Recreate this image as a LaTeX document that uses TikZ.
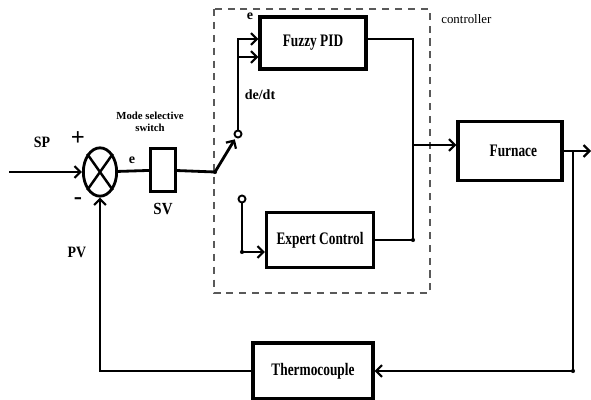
\documentclass[tikz,border=0pt]{standalone}
\usepackage{fontspec}
\setmainfont{Liberation Serif}
\newfontfamily\narrowbf[FakeStretch=0.76]{Liberation Serif Bold}
\newfontfamily\midbf[FakeStretch=0.88]{Liberation Serif Bold}
\usepackage{tikz}
\usetikzlibrary{arrows.meta,shapes.geometric,positioning,calc}

\begin{document}
\begin{tikzpicture}[
    x=0.03cm,y=-0.03cm,
    line width=2.4pt,
    box/.style={draw,line width=2.7pt,font=\fontsize{15}{17}\narrowbf,
                text centered,inner sep=2pt},
    arr/.style={-{Straight Barb[length=5pt,width=10pt,line width=1.9pt]}},
    lbl/.style={font=\fontsize{13.5}{15}\midbf,inner sep=1pt},
    small/.style={font=\fontsize{9.2}{10.5}\bfseries,inner sep=1pt,align=center},
    term/.style={circle,draw,line width=1.6pt,fill=white,inner sep=0pt,minimum size=6pt},
    dot/.style={circle,fill,inner sep=0pt,minimum size=3.5pt},
  ]
    \useasboundingbox (0,0) rectangle (591,400);
    % controller frame
    \draw[gray!70!black,line width=1.1pt,dash pattern=on 6pt off 5pt]
      (214,9) rectangle (430,293);
    \node[font=\fontsize{11}{13}\selectfont,anchor=west] (ctrl) at (436,19) {controller};

    % blocks
    \node[ellipse,draw,line width=2.4pt,minimum width=1.0cm,minimum height=1.45cm,
          inner sep=0pt] (sum) at (100,172) {};
    \draw[line width=2.1pt] (sum.north east) -- (sum.south west)
                             (sum.north west) -- (sum.south east);
    \node[box,minimum width=0.75cm,minimum height=1.29cm] (sv) at (163,170) {};
    \node[box,minimum width=3.18cm,minimum height=1.56cm] (fuzzy) at (313,43) {Fuzzy PID\hspace{0.7cm}};
    \node[box,minimum width=3.21cm,minimum height=1.65cm] (expert) at (320,240) {Expert Control};
    \node[box,minimum width=3.12cm,minimum height=1.77cm] (furnace) at (510,151) {\hspace{0.2cm}Furnace};
    \node[box,minimum width=3.6cm,minimum height=1.68cm] (thermo) at (313,371) {Thermocouple\hspace{0.3cm}};

    % switch
    \coordinate (pivot) at (215,172);
    \node[term] (up) at (238,134) {};
    \node[term] (lo) at (242,199) {};
    \coordinate (fzA) at ($(fuzzy.west)+(0,-4)$);
    \coordinate (fzB) at ($(fuzzy.west)+(0,14)$);
    \coordinate (exA) at ($(expert.west)+(0,12)$);
    \coordinate (jn) at (413,145);
    \coordinate (split) at (573,151);
    \coordinate (spin) at (9,172);
    \coordinate (out) at (591,151);

    % connectors
    \draw[arr] (spin) -- (sum);
    \draw (sum) -- (sv);
    \draw (sv) -- (pivot);
    \draw[arr] (pivot) -- ($(pivot)!0.86!(up)$);
    \draw[arr] (up.north) |- (fzA);
    \draw[arr] (up.north |- fzB) -- (fzB);
    \draw[arr] (lo.south) |- (exA);
    \draw ($(fuzzy.east)+(0,-4)$) -| (jn) -- (jn |- expert.east) -- (expert.east);
    \draw[arr] (jn) -- (jn -| furnace.west);
    \draw[arr] (furnace.east) -- (out);
    \draw[arr] (split) |- (thermo.east);
    \draw[arr] (thermo.west) -| (sum.south);
    \node[dot] at (pivot) {};
    \node[dot] at (jn |- expert.east) {};
    \node[dot] at (lo.south |- exA) {};
    \node[dot] at (split |- thermo.east) {};

    % labels
    \node[lbl] (sp) at (42,142) {SP};
    \node[font=\fontsize{21}{21}\selectfont\bfseries] (plus) at (78,139) {+};
    \node[font=\fontsize{21}{21}\selectfont\bfseries] (minus) at (78,201) {-};
    \node[lbl] (pv) at (77,252) {PV};
    \node[small,font=\fontsize{12}{13}\bfseries] (e1) at (132,160) {e};
    \node[small] (mode) at (150,122) {Mode selective\\switch};
    \node[lbl,font=\fontsize{14.5}{15}\midbf,below=0.22cm of sv] (svl) {SV};
    \node[small,font=\fontsize{12}{13}\bfseries] (e2) at (250,16) {e};
    \node[small,font=\fontsize{12}{13}\bfseries] (dedt) at (260,95) {de/dt};
  \end{tikzpicture}
\end{document}
